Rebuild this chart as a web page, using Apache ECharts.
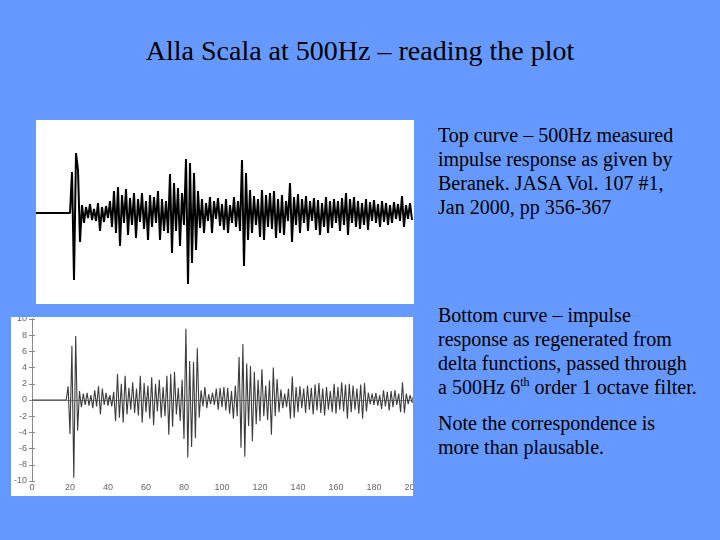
<!DOCTYPE html>
<html>
<head>
<meta charset="utf-8">
<script src="https://cdn.jsdelivr.net/npm/echarts@6/dist/echarts.min.js"></script>
<style>
  body { margin: 0; width: 720px; height: 540px; background: #6699ff; position: relative; overflow: hidden;
         font-family: "Liberation Serif", "Times New Roman", serif; color: #000; }
  .title { position: absolute; left: 0; width: 720px; top: 35px; text-align: center; font-size: 28px; }
  .para { position: absolute; left: 438px; font-size: 20px; line-height: 24px; white-space: nowrap; }
  .para sup { font-size: 12px; line-height: 0; vertical-align: 8px; }
  #top { position: absolute; left: 36px; top: 120px; width: 378px; height: 184px; background: #fff; }
  #bottom { position: absolute; left: 11px; top: 317px; width: 402px; height: 179px; background: #fff; }
</style>
</head>
<body>
<div class="title">Alla Scala at 500Hz – reading the plot</div>
<div class="para" style="top:123px">Top curve – 500Hz measured<br>impulse response as given by<br>Beranek. JASA Vol. 107 #1,<br>Jan 2000, pp 356-367</div>
<div class="para" style="top:303px">Bottom curve – impulse<br>response as regenerated from<br>delta functions, passed through<br>a 500Hz 6<sup>th</sup> order 1 octave filter.</div>
<div class="para" style="top:411px">Note the correspondence is<br>more than plausable.</div>
<div id="top"></div>
<div id="bottom"></div>
<script>
// measured response (Beranek), one reading every sample step, arbitrary amplitude
const topStart = 0;
const topValues = [
  41, -67, 60, 43, -29, 8, -10, 6, -5, 9, -7, 4, -8, 10, -18, 6, -9, 7, -5, 12,
  -14, 22, -20, 26, -33, 18, -10, 24, -22, 15,
  -12, 20, -25, 14, -9, 20, -16, 12, -27, 18,
  -14, 16, -10, 22, -27, 14, -18, 12, -20, 39,
  -40, 30, -18, 25, -33, 20, -12, 54, -71, 50,
  -50, 40, -37, 22, -15, 14, -20, 10, -8, 16,
  -20, 12, -6, 15, -13, 9, -17, 14, -20, 8,
  -10, 16, -14, 12, -18, 53, -53, 40, -27, 23,
  -20, 17, -12, 14, -24, 23, -27, 18, -14, 20,
  -16, 22, -25, 14, -20, 18, -22, 12, -8, 30,
  -29, 16, -12, 19, -20, 14, -10, 17, -18, 12,
  -8, 15, -17, 13, -22, 10, -14, 16, -20, 12,
  -15, 14, -10, 12, -18, 15, -12, 20, -22, 14,
  -10, 16, -14, 12, -16, 10, -12, 14, -17, 11,
  -8, 13, -10, 9, -14, 12, -9, 10, -12, 8,
  -10, 11, -6, 9, -8, 17, -14, 8, -6, 10, -7
];

// regenerated response, x in ms from 19 to 200, one value per ms
const bottomStart = 19;
const bottomValues = [
  1.7, -4.2, 6.7, -9.6, 7.9, -3.8, 1.1, -0.9, 0.8, -0.6,
  0.9, -0.7, 0.6, -1.0, 1.2, -0.8, 1.7, -1.8, 1.4, -0.6,
  0.9, -0.7, 0.6, -0.8, 1.0, -2.6, 3.2, -2.2, 2.0, -2.8,
  3.0, -1.8, 1.5, -1.2, 2.2, -1.6, 1.4, -1.9, 3.0, -2.8,
  2.1, -1.5, 1.8, -2.3, 2.8, -3.1, 2.0, -1.4, 2.5, -2.2,
  1.6, -2.0, 3.0, -4.3, 3.2, -3.3, 3.5, -1.8, 1.5, -2.6,
  2.5, -4.8, 8.8, -7.1, 4.8, -5.8, 4.7, -4.7, 6.4, -2.2,
  1.2, -0.8, 1.6, -1.0, 0.7, -0.5, 0.9, -0.6, 1.4, -1.2,
  1.5, -0.9, 1.6, -1.3, 1.5, -1.7, 1.1, -2.3, 1.8, -2.0,
  5.3, -5.9, 6.9, -7.0, 4.5, -3.2, 4.2, -5.1, 3.5, -3.0,
  2.5, -2.6, 3.8, -2.0, 1.8, -2.5, 2.4, -4.3, 4.0, -2.0,
  2.6, -1.5, 1.3, -1.0, 0.8, -0.9, 1.4, -2.3, 2.9, -2.2,
  1.6, -1.5, 1.7, -1.0, 1.4, -1.6, 1.8, -1.2, 1.5, -1.8,
  1.9, -1.3, 2.1, -1.6, 1.4, -1.9, 1.6, -1.2, 1.1, -1.5,
  2.0, -1.7, 1.6, -1.2, 2.2, -1.4, 1.9, -2.3, 2.0, -1.5,
  1.8, -1.2, 1.4, -1.7, 1.9, -2.3, 2.1, -1.4, 0.9, -0.5,
  0.8, -0.6, 0.9, -0.7, 0.6, -1.1, 1.2, -0.8, 1.0, -1.3,
  1.1, -0.9, 1.2, -0.6, 0.8, -1.5, 2.2, -1.6, 0.8, -0.5,
  0.6, -0.3
];

const xTicks = [0, 20, 40, 60, 80, 100, 120, 140, 160, 180, 200];
const yTicks = [-10, -8, -6, -4, -2, 0, 2, 4, 6, 8, 10];

// top: scanned plot, no axes
const topChart = echarts.init(document.getElementById('top'));
const topData = [[-18, 0], [topStart - 1, 0]].concat(topValues.map((v, i) => [topStart + i, v]));
topChart.setOption({
  animation: false,
  grid: { left: 0, right: 0, top: 0, bottom: 0, outerBoundsMode: 'none' },
  xAxis: { type: 'value', min: -18, max: 171, show: false },
  yAxis: { type: 'value', min: -91, max: 93, show: false },
  series: [{
    type: 'line', data: topData, showSymbol: false,
    lineStyle: { color: '#000', width: 2 }
  }]
});

// bottom: matlab-like plot with box
const bottomChart = echarts.init(document.getElementById('bottom'));
const bottomData = [[0, 0], [bottomStart - 1, 0]].concat(bottomValues.map((v, i) => [bottomStart + i, v]));
const axisCol = '#8a8a8a';
const labelStyle = { color: '#666', fontSize: 9, fontFamily: 'Liberation Sans, Arial, sans-serif' };
bottomChart.setOption({
  animation: false,
  grid: { left: 21, width: 380, top: 2, height: 162, outerBoundsMode: 'none', containLabel: false },
  xAxis: [
    { type: 'value', min: xTicks[0], max: xTicks[xTicks.length - 1], interval: 20,
      axisLine: { show: true, lineStyle: { color: axisCol } },
      axisTick: { inside: true, length: 3, lineStyle: { color: axisCol } },
      axisLabel: Object.assign({ margin: 2, hideOverlap: false }, labelStyle),
      splitLine: { show: false } },
    { type: 'value', position: 'top', min: 0, max: 200, interval: 20,
      axisLine: { show: true, lineStyle: { color: axisCol } },
      axisTick: { inside: true, length: 3, lineStyle: { color: axisCol } },
      axisLabel: { show: false }, splitLine: { show: false } }
  ],
  yAxis: [
    { type: 'value', min: yTicks[0], max: yTicks[yTicks.length - 1], interval: 2,
      axisLine: { show: true, lineStyle: { color: axisCol } },
      axisTick: { inside: true, length: 3, lineStyle: { color: axisCol } },
      axisLabel: Object.assign({ margin: 5 }, labelStyle),
      splitLine: { show: false } },
    { type: 'value', position: 'right', min: -10, max: 10, interval: 2,
      axisLine: { show: true, lineStyle: { color: axisCol } },
      axisTick: { inside: true, length: 3, lineStyle: { color: axisCol } },
      axisLabel: { show: false }, splitLine: { show: false } }
  ],
  series: [{
    type: 'line', data: bottomData, showSymbol: false,
    lineStyle: { color: '#3c3c3c', width: 1.1 }
  }]
});
</script>
</body>
</html>
